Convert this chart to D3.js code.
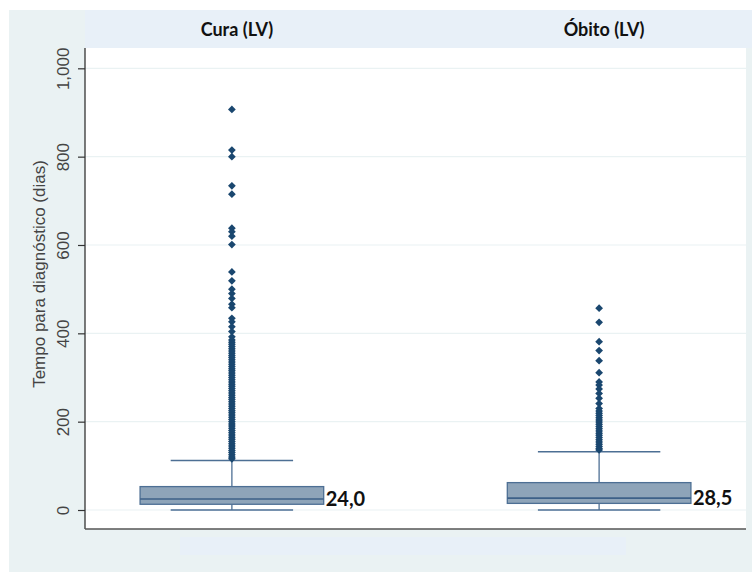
<!DOCTYPE html>
<html><head><meta charset="utf-8">
<script src="https://cdn.jsdelivr.net/npm/d3@7"></script>
<style>body{margin:0;background:#fff}svg{display:block}</style>
</head><body><svg id="c" width="752" height="572"></svg>
<script>
const categories = ["Cura (LV)", "Óbito (LV)"];
const medianLabels = ["24,0", "28,5"];
const q1 = [13, 15];
const median = [25, 27];
const q3 = [53, 62];
const whiskerLow = [0, 0];
const whiskerHigh = [112, 132];
const outliersCura = [907, 815, 800, 734, 715, 638, 630, 620, 601, 539, 519, 500, 490, 479, 466, 458, 434, 426, 415, 404, 392,
  385, 380, 375, 370, 365, 360, 355, 350, 345, 340, 335, 330, 325, 320, 315, 310, 305, 300, 295, 290, 285, 280, 275, 270,
  265, 260, 255, 250, 245, 240, 235, 230, 225, 220, 215, 210, 205, 200, 195, 190, 185, 180, 175, 170, 165, 160, 155, 150,
  145, 140, 135, 130, 125, 120, 116];
const outliersObito = [457, 425, 381, 361, 338, 311, 290, 283, 274, 264, 253, 241, 230, 224, 219, 214, 209, 204, 199, 194,
  189, 184, 179, 174, 169, 164, 159, 154, 149, 144, 139, 136];
const outliers = [outliersCura, outliersObito];
const yTicks = [0, 200, 400, 600, 800, 1000];
const yTitle = "Tempo para diagnóstico (dias)";

const svg = d3.select("#c");
const L = 85, R = 746, T = 48, B = 529;

// backgrounds
svg.append("rect").attr("x", 9).attr("y", 10).attr("width", 743).attr("height", 562).attr("fill", "#eaf2f3");
svg.append("rect").attr("x", 85).attr("y", 10).attr("width", 667).attr("height", 38).attr("fill", "#e8f0f8");
svg.append("rect").attr("x", 180).attr("y", 537).attr("width", 446).attr("height", 18).attr("fill", "#e8f0f8");
svg.append("rect").attr("x", L).attr("y", T).attr("width", R - L).attr("height", B - T).attr("fill", "#ffffff");

const y = d3.scaleLinear().domain([-43, 1046]).range([B, T]);
const x = d3.scalePoint().domain(categories).range([L, R]).padding(0.4);
const step = x.step();
const bw = step * 0.5, cw = step / 3;

// gridlines
svg.append("g").selectAll("line").data(yTicks).join("line")
  .attr("x1", L).attr("x2", R).attr("y1", d => y(d)).attr("y2", d => y(d))
  .attr("stroke", "#eaf2f3").attr("stroke-width", 1.2);

// y axis
const yAxis = d3.axisLeft(y).tickValues(yTicks).tickSize(7).tickFormat(d3.format(","));
const ga = svg.append("g").attr("transform", `translate(${L},0)`).call(yAxis);
ga.select(".domain").remove();
ga.selectAll(".tick line").attr("stroke", "#333").attr("stroke-width", 1.2);
ga.selectAll(".tick text").attr("transform", "rotate(-90)").attr("x", 0).attr("y", -16)
  .attr("dy", "0").attr("text-anchor", "middle").attr("fill", "#444")
  .style("font-family", "'Liberation Sans', Arial, sans-serif").style("font-size", "17px");
svg.append("line").attr("x1", L).attr("x2", L).attr("y1", T).attr("y2", B).attr("stroke", "#333").attr("stroke-width", 1.3);
svg.append("line").attr("x1", L).attr("x2", R).attr("y1", B).attr("y2", B).attr("stroke", "#555").attr("stroke-width", 1.5);

svg.append("text").attr("transform", `translate(45,274) rotate(-90)`)
  .attr("text-anchor", "middle").attr("fill", "#444")
  .style("font-family", "'Liberation Sans', Arial, sans-serif").style("font-size", "17px").text(yTitle);

// titles
svg.selectAll(".ttl").data(categories).join("text").attr("class", "ttl")
  .attr("x", d => x(d) + 5).attr("y", 36).attr("text-anchor", "middle").attr("fill", "#111")
  .style("font-family", "Lato, 'Open Sans', sans-serif").style("font-weight", "bold").style("font-size", "18px")
  .text(d => d);

const stroke = "#4d6f94", fill = "#8ea4b9", mark = "#1a476f";
categories.forEach((c, i) => {
  const cx = x(c);
  const g = svg.append("g");
  // whiskers
  g.append("line").attr("x1", cx).attr("x2", cx).attr("y1", y(q3[i])).attr("y2", y(whiskerHigh[i])).attr("stroke", stroke).attr("stroke-width", 1.3);
  g.append("line").attr("x1", cx).attr("x2", cx).attr("y1", y(q1[i])).attr("y2", y(whiskerLow[i])).attr("stroke", stroke).attr("stroke-width", 1.3);
  g.append("line").attr("x1", cx - cw / 2).attr("x2", cx + cw / 2).attr("y1", y(whiskerHigh[i])).attr("y2", y(whiskerHigh[i])).attr("stroke", stroke).attr("stroke-width", 1.5);
  g.append("line").attr("x1", cx - cw / 2).attr("x2", cx + cw / 2).attr("y1", y(whiskerLow[i])).attr("y2", y(whiskerLow[i])).attr("stroke", stroke).attr("stroke-width", 1.5);
  // box
  g.append("rect").attr("x", cx - bw / 2).attr("y", y(q3[i])).attr("width", bw).attr("height", y(q1[i]) - y(q3[i]))
    .attr("fill", fill).attr("stroke", stroke).attr("stroke-width", 1.3);
  g.append("line").attr("x1", cx - bw / 2).attr("x2", cx + bw / 2).attr("y1", y(median[i])).attr("y2", y(median[i]))
    .attr("stroke", "#3d6088").attr("stroke-width", 1.6);
  // outliers
  const sym = d3.symbol().type(d3.symbolSquare).size(30);
  g.selectAll("path.o").data(outliers[i]).join("path").attr("class", "o")
    .attr("d", sym).attr("transform", d => `translate(${cx},${y(d)}) rotate(45)`).attr("fill", mark);
  // median label
  g.append("text").attr("x", cx + bw / 2 + 2).attr("y", y(median[i]) + 7).attr("fill", "#111")
    .style("font-family", "Lato, 'Open Sans', sans-serif").style("font-weight", "bold").style("font-size", "20px")
    .text(medianLabels[i]);
});
</script></body></html>
